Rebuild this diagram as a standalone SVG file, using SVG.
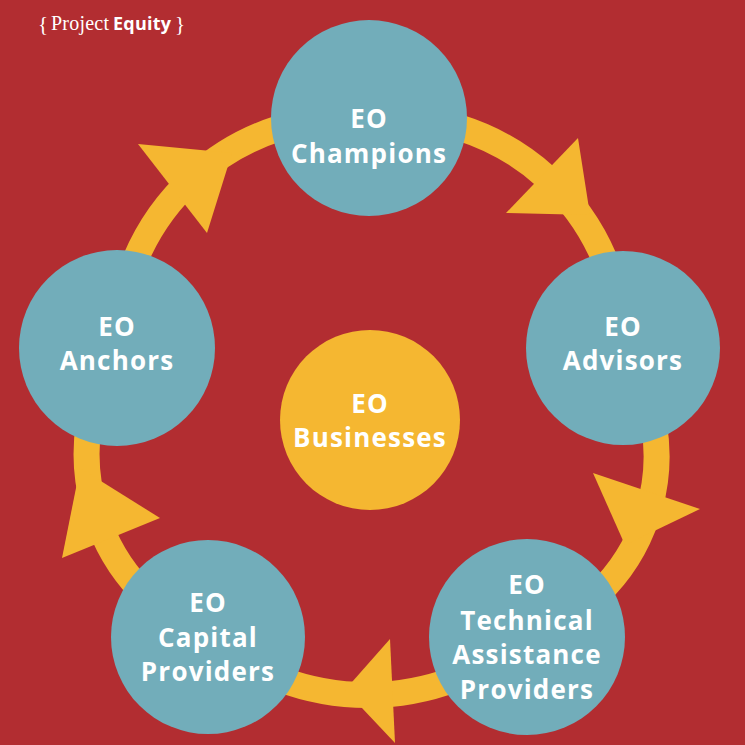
<svg xmlns="http://www.w3.org/2000/svg" width="745" height="745" viewBox="0 0 745 745">
<style>
.n{fill:#72adba}.t{fill:#fff;font-family:"Open Sans",sans-serif;font-weight:700;font-size:26px;letter-spacing:1.2px;text-anchor:middle}
.a{fill:#f5b731}
</style>
<rect width="745" height="745" fill="#b22d31"/>
<g id="logo" fill="#fff"><text x="38" y="31" font-size="21" font-family="Liberation Serif,serif">{</text><text x="51" y="30" font-size="20" font-family="Liberation Serif,serif" textLength="58">Project</text><text x="113" y="30" font-size="18" font-family="Open Sans,sans-serif" font-weight="700" textLength="58">Equity</text><text x="175" y="31" font-size="21" font-family="Liberation Serif,serif">}</text></g>
<g id="connectors">
<path d="M369 118 A233 233 0 0 1 623 348 A191 191 0 0 1 527 637 A248 248 0 0 1 208 637 A199 199 0 0 1 117 348 A233 233 0 0 1 369 118Z" fill="none" stroke="#f5b731" stroke-width="26"/>
<polygon class="a" points="138,144 207,233 232,153"/>
<polygon class="a" points="578,138 506,213 590,215"/>
<polygon class="a" points="593,473 700,509 625,545"/>
<polygon class="a" points="390,639 395,743 345,690"/>
<polygon class="a" points="62,558 160,518 80,468"/>
</g>
<g id="champions"><circle class="n" cx="369" cy="118" r="98"/><text class="t" x="369" y="128">EO</text><text class="t" x="369" y="163">Champions</text></g>
<g id="advisors"><circle class="n" cx="623" cy="348" r="97"/><text class="t" x="623" y="336">EO</text><text class="t" x="623" y="370">Advisors</text></g>
<g id="technical"><circle class="n" cx="527" cy="637" r="98"/><text class="t" x="527" y="594">EO</text><text class="t" x="527" y="630">Technical</text><text class="t" x="527" y="664">Assistance</text><text class="t" x="527" y="699">Providers</text></g>
<g id="capital"><circle class="n" cx="208" cy="637" r="97"/><text class="t" x="208" y="612">EO</text><text class="t" x="208" y="647">Capital</text><text class="t" x="208" y="681">Providers</text></g>
<g id="anchors"><circle class="n" cx="117" cy="348" r="98"/><text class="t" x="117" y="336">EO</text><text class="t" x="117" y="370">Anchors</text></g>
<g id="businesses"><circle cx="370" cy="420" r="90" fill="#f5b731"/><text class="t" x="370" y="413">EO</text><text class="t" x="370" y="447">Businesses</text></g>
</svg>
